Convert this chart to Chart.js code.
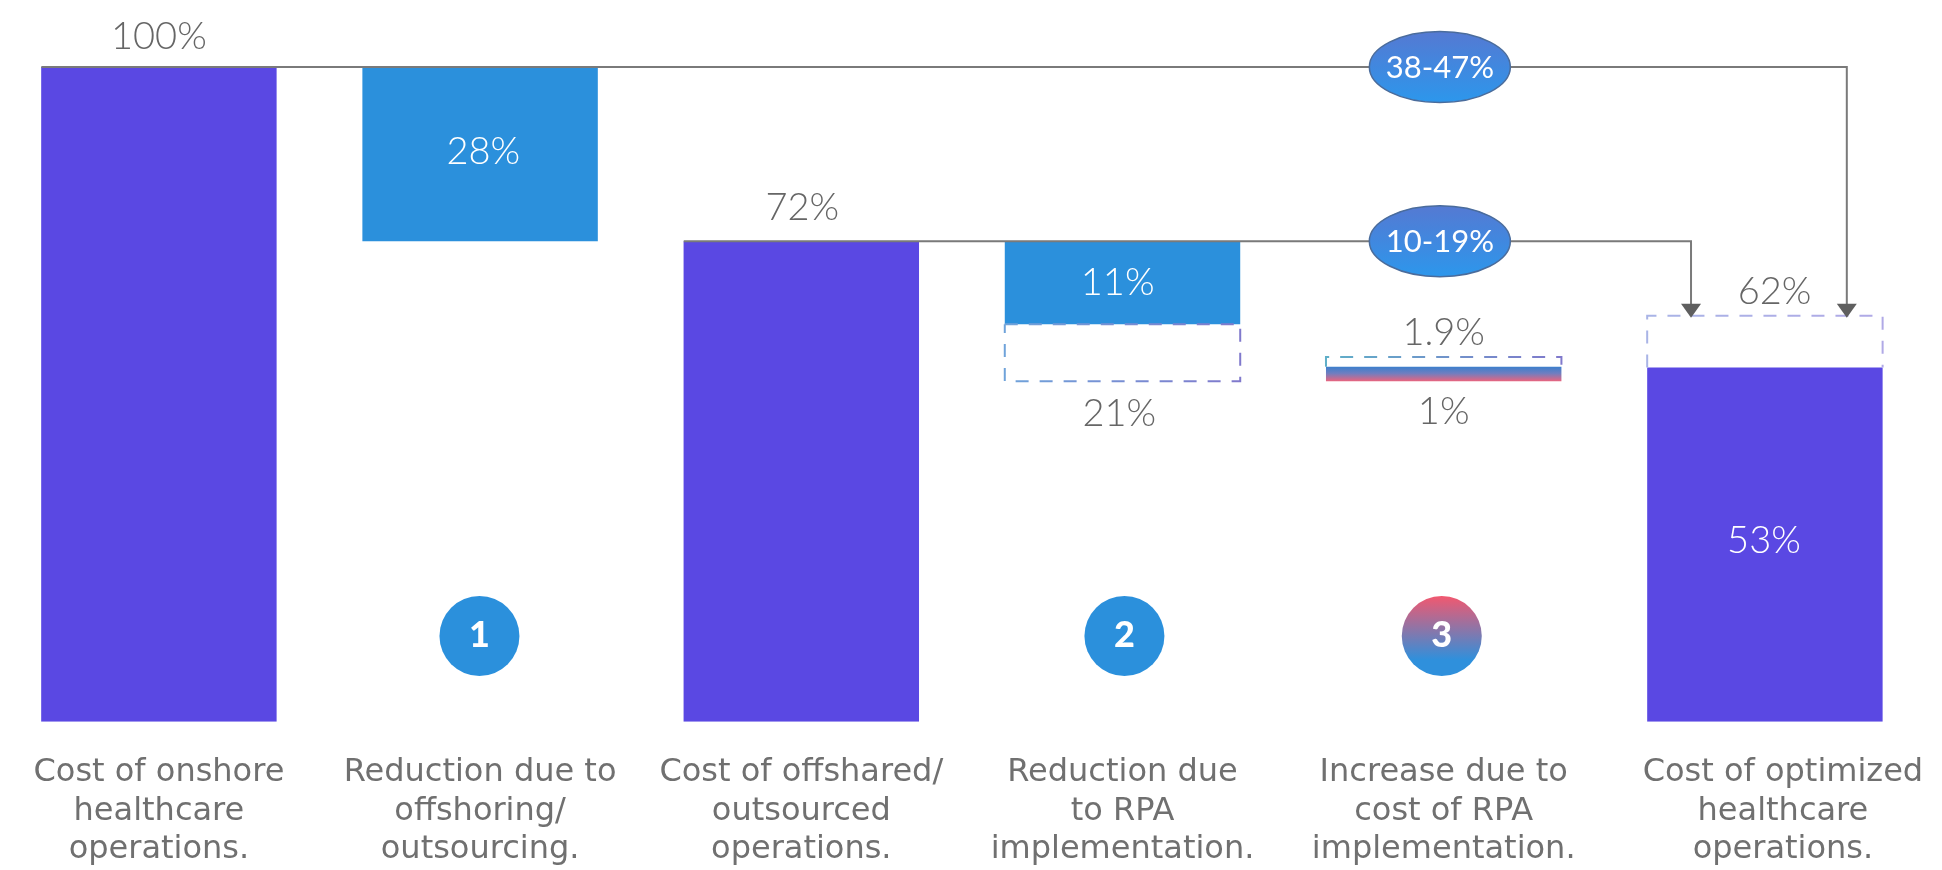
<!DOCTYPE html>
<html><head><meta charset="utf-8">
<script src="https://cdn.jsdelivr.net/npm/chart.js@4"></script>
<style>
html,body{margin:0;padding:0;background:#fff;overflow:hidden;width:1942px;height:870px}
canvas{position:absolute;left:-2px;top:0}
</style></head><body>
<canvas id="c" width="1946" height="870"></canvas>
<script>
const categories = [
  ["Cost of onshore","healthcare","operations."],
  ["Reduction due to","offshoring/","outsourcing."],
  ["Cost of offshared/","outsourced","operations."],
  ["Reduction due","to RPA","implementation."],
  ["Increase due to","cost of RPA","implementation."],
  ["Cost of optimized","healthcare","operations."]
];
const barLow  = [0, 73.4, 0, 60.7, 52, 0];
const barHigh = [100, 100, 73.4, 73.4, 54.2, 54.1];
const barColors = ["#5A48E3","#2B90DC","#5A48E3","#2B90DC","gradient","#5A48E3"];
const dashedCat  = [3, 4, 5];
const dashedLow  = [52, 54.2, 54.1];
const dashedHigh = [60.7, 55.7, 62];
const dashedLeft  = ["#6FA3DA","#5FAFC8","#A9B4E6"];
const dashedRight = ["#8079CC","#8079CC","#B0A9E6"];
const valueTexts = ["100%","28%","72%","11%","21%","1.9%","1%","62%","53%"];
const valueX     = [0, 1.01, 2.003, 2.985, 2.99, 4, 4, 5.03, 4.997];
const valueY     = [104.6, 87.0, 78.45, 67.05, 47.1, 59.4, 47.4, 65.6, 27.6];
const valueWhite = [false,true,false,true,false,false,false,false,true];
const connectorFromX = [-0.366, 1.634];
const connectorToX   = [5.255, 4.77];
const connectorY     = [100, 73.4];
const connectorEndY  = [61.7, 61.7];
const ovalTexts = ["38-47%","10-19%"];
const ovalX = [3.988, 3.988];
const ovalY = [100, 73.4];
const stepTexts = ["1","2","3"];
const stepX = [0.998, 3.006, 3.994];
const stepY = [13.1, 13.1, 13.1];
const stepTop = ["#2B90DC","#2B90DC","#F2586F"];
const stepBottom = ["#2B90DC","#2B90DC","#2F90DC"];

const overlay = {
  id:'overlay',
  beforeDraw(chart){
    const x = chart.scales.x;
    const items = x.getLabelItems(chart.chartArea);
    if(items[5] && !items[5]._moved){ items[5].options.translation[0] += 18; items[5]._moved = true; }
  },
  afterDatasetsDraw(chart){
    const {ctx, scales:{x,y}} = chart;
    const half = chart.getDatasetMeta(0).data[0].width/2;
    ctx.save();
    // dashed outlines
    dashedCat.forEach((c,i)=>{
      const l = x.getPixelForValue(c)-half, r = x.getPixelForValue(c)+half;
      const t = y.getPixelForValue(dashedHigh[i]), b = y.getPixelForValue(dashedLow[i]);
      const g = ctx.createLinearGradient(l,0,r,0);
      g.addColorStop(0,dashedLeft[i]); g.addColorStop(1,dashedRight[i]);
      ctx.strokeStyle = g; ctx.lineWidth = 2; ctx.setLineDash([13,11]);
      ctx.beginPath();
      if(c===3){ ctx.moveTo(l,t); ctx.lineTo(r,t); ctx.lineTo(r,b); ctx.lineTo(l,b); ctx.lineTo(l,t); }
      else { ctx.moveTo(l,b); ctx.lineTo(l,t); ctx.lineTo(r,t); ctx.lineTo(r,b); }
      ctx.stroke();
    });
    ctx.setLineDash([]);
    // connectors with arrow heads
    connectorY.forEach((v,i)=>{
      const x0 = x.getPixelForValue(connectorFromX[i]), x1 = x.getPixelForValue(connectorToX[i]);
      const yy = y.getPixelForValue(v), y1 = y.getPixelForValue(connectorEndY[i]);
      ctx.strokeStyle = '#7A7A7A'; ctx.lineWidth = 2;
      ctx.beginPath(); ctx.moveTo(x0,yy); ctx.lineTo(x1,yy); ctx.lineTo(x1,y1-10); ctx.stroke();
      ctx.fillStyle = '#5f5f5f';
      ctx.beginPath(); ctx.moveTo(x1-10,y1-14); ctx.lineTo(x1+10,y1-14); ctx.lineTo(x1,y1); ctx.closePath(); ctx.fill();
    });
    // ovals
    ovalTexts.forEach((t,i)=>{
      const cx = x.getPixelForValue(ovalX[i]), cy = y.getPixelForValue(ovalY[i]);
      const g = ctx.createLinearGradient(0,cy-36,0,cy+36);
      g.addColorStop(0,'#5579D2'); g.addColorStop(1,'#2C97EC');
      ctx.fillStyle = g; ctx.strokeStyle = '#4A6C9C'; ctx.lineWidth = 1.5;
      ctx.beginPath(); ctx.ellipse(cx,cy,70.5,35.5,0,0,Math.PI*2); ctx.fill(); ctx.stroke();
      ctx.fillStyle = '#fff'; ctx.font = '400 31px Lato';
      ctx.textAlign = 'center'; ctx.textBaseline = 'middle';
      ctx.fillText(t,cx,cy+1);
    });
    // numbered circles
    stepTexts.forEach((t,i)=>{
      const cx = x.getPixelForValue(stepX[i]), cy = y.getPixelForValue(stepY[i]);
      const g = ctx.createLinearGradient(0,cy-40,0,cy+40);
      g.addColorStop(0,stepTop[i]); g.addColorStop(.8,stepBottom[i]);
      ctx.fillStyle = g;
      ctx.beginPath(); ctx.arc(cx,cy,40,0,Math.PI*2); ctx.fill();
      ctx.fillStyle = '#fff'; ctx.font = '900 36px Lato';
      ctx.textAlign = 'center'; ctx.textBaseline = 'middle';
      ctx.fillText(t,cx,cy-1);
    });
    // value labels
    valueTexts.forEach((t,i)=>{
      ctx.fillStyle = valueWhite[i] ? '#FFFFFF' : '#666666';
      ctx.font = '300 38px Lato';
      ctx.textAlign = 'center'; ctx.textBaseline = 'middle';
      ctx.fillText(t,x.getPixelForValue(valueX[i]),y.getPixelForValue(valueY[i]));
    });
    ctx.restore();
  }
};

new Chart(document.getElementById('c'),{
  type:'bar',
  data:{
    labels:categories,
    datasets:[{
      data:barLow.map((l,i)=>[l,barHigh[i]]),
      backgroundColor(c){
        const col = barColors[c.dataIndex];
        if(col!=='gradient') return col;
        const sc = c.chart.scales.y;
        if(!sc) return '#3C7FCC';
        const g = c.chart.ctx.createLinearGradient(0,sc.getPixelForValue(barHigh[c.dataIndex]),0,sc.getPixelForValue(barLow[c.dataIndex]));
        g.addColorStop(0,'#3C7FCC'); g.addColorStop(.45,'#6F7EC0'); g.addColorStop(1,'#EA647E');
        return g;
      },
      borderWidth:0,
      barPercentage:0.733,
      categoryPercentage:1
    }]
  },
  plugins:[overlay],
  options:{
    responsive:false,
    animation:false,
    layout:{padding:{top:67,left:0.3,right:18.5,bottom:0}},
    plugins:{legend:{display:false},tooltip:{enabled:false},title:{display:false}},
    scales:{
      x:{
        afterFit(s){ s.height = 148.3; },
        grid:{display:false,drawTicks:false},
        border:{display:false},
        ticks:{
          autoSkip:false,maxRotation:0,minRotation:0,padding:32,
          color:'#707070',
          font:{family:'"DejaVu Sans"',size:32,weight:'400',lineHeight:1.2}
        }
      },
      y:{display:false,min:0,max:100}
    }
  }
});
</script>
</body></html>
